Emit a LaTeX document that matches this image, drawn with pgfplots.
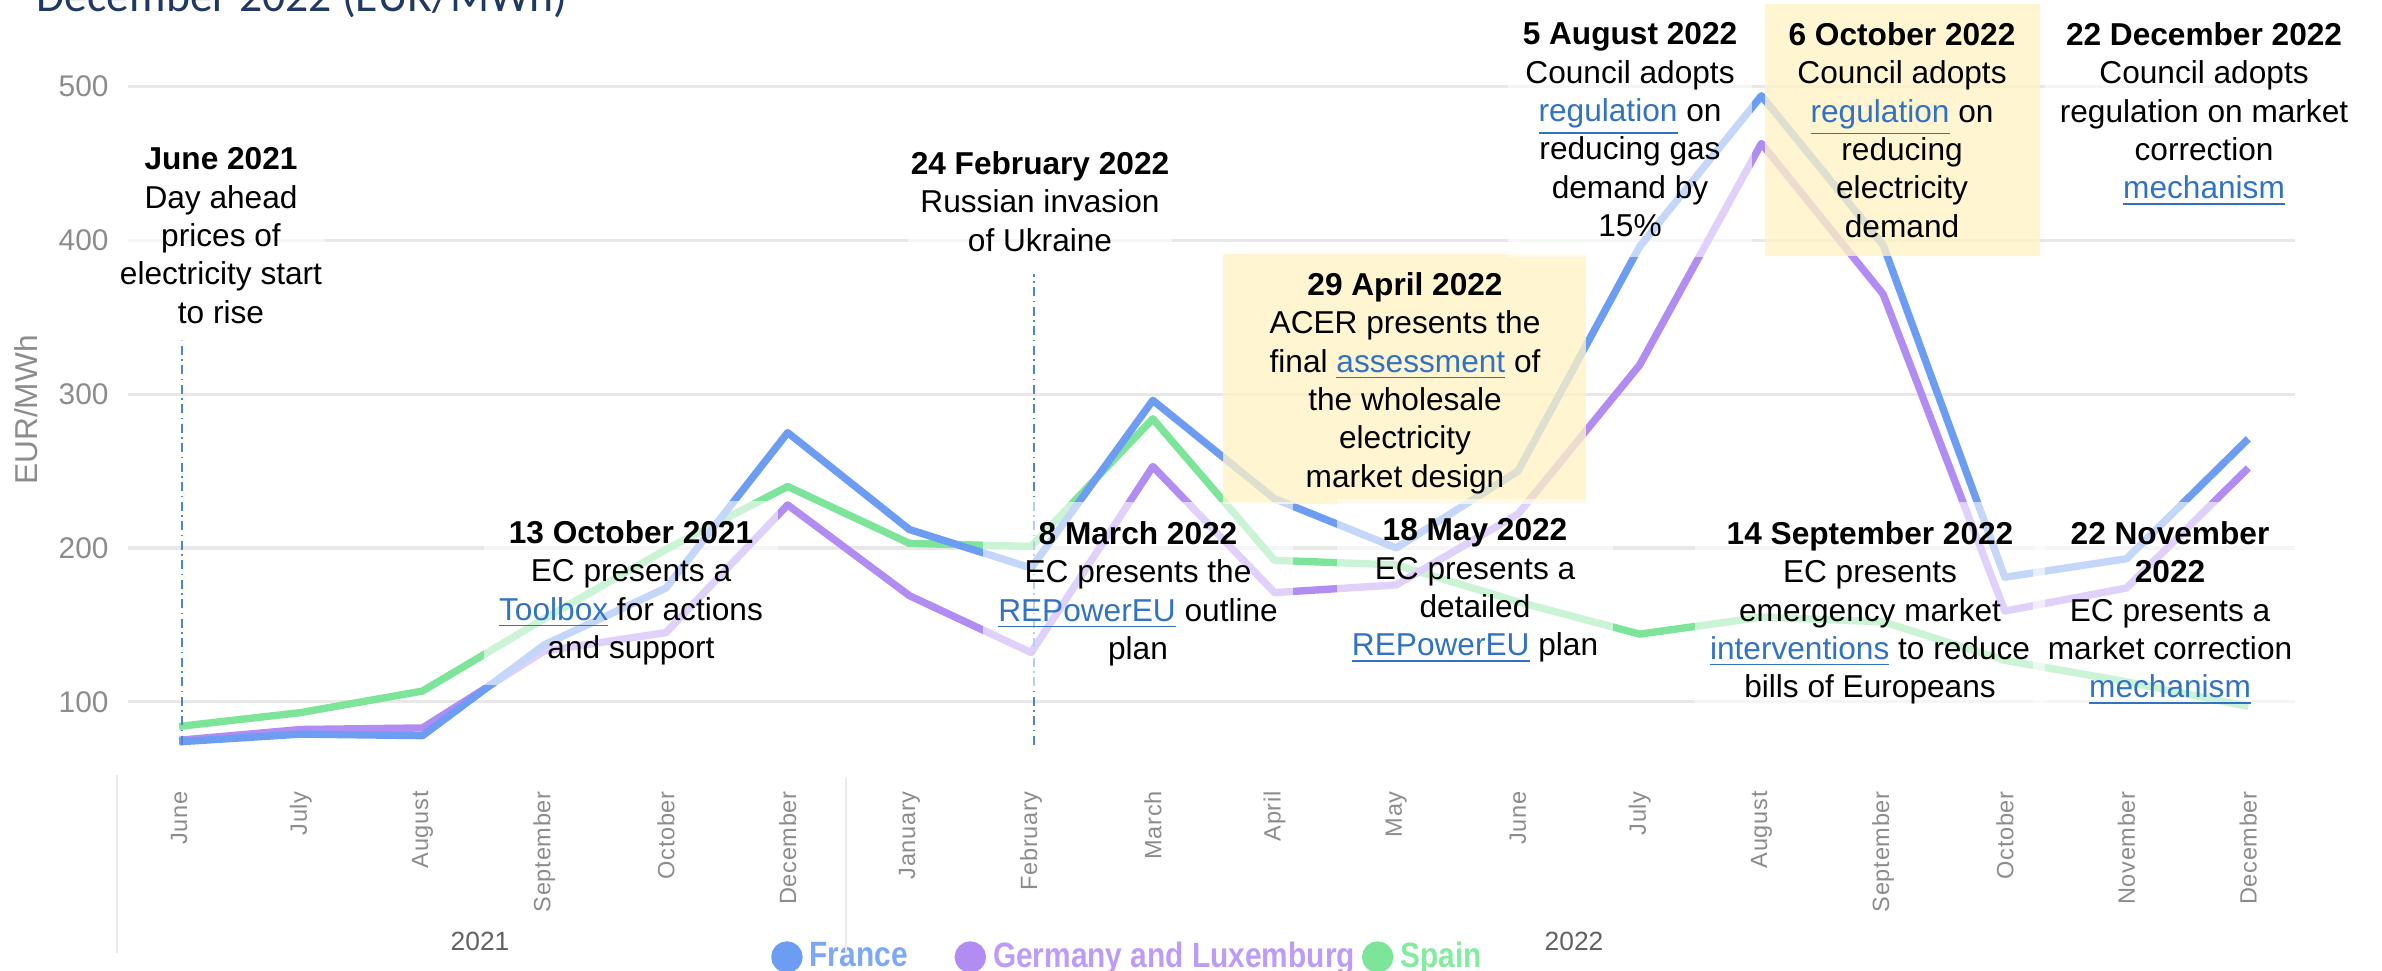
\documentclass[border=0pt]{standalone}
\usepackage{pgfplots}
\pgfplotsset{compat=1.18}
\usepackage{fontspec}
\setmainfont{Liberation Sans}
\newfontfamily\ann{Liberation Sans}
\newfontfamily\nar{Liberation Sans}[FakeStretch=0.85]
\newfontfamily\tickf{Liberation Sans}[LetterSpace=3]
\newfontfamily\titlef{Carlito}
\definecolor{france}{HTML}{6C9DF2}
\definecolor{germany}{HTML}{B18CF3}
\definecolor{spain}{HTML}{7DE59A}
\definecolor{franceL}{HTML}{7DA8F8}
\definecolor{germanyL}{HTML}{BC9CF7}
\definecolor{spainL}{HTML}{84EBA0}
\definecolor{lnk}{HTML}{3272C2}
\definecolor{evline}{HTML}{4A86C8}
\definecolor{ybox}{HTML}{FFF2C4}
\definecolor{titleblue}{HTML}{1F3864}
\definecolor{tickgray}{HTML}{8C8C8C}
\newcommand{\lk}[1]{\textcolor{lnk}{\underline{#1}}}
\tikzset{
  ann/.style={align=center, anchor=north, font=\ann\fontsize{9}{10.9}\selectfont,
    inner xsep=1.5mm, inner ysep=2mm, fill=white, fill opacity=0.6, text opacity=1},
  annY/.style={ann, fill=none}
}
\begin{document}
\begin{tikzpicture}
\useasboundingbox (0,0) rectangle (238.2mm,-97mm);
\clip (0,0) rectangle (238.2mm,-97mm);
\begin{axis}[
  at={(12.8mm,-77.87mm)}, anchor=south west,
  scale only axis, width=216.65mm, height=75.37mm,
  xmin=-0.42, xmax=17.38, ymin=50, ymax=540,
  axis line style={draw=none},
  tick style={draw=none},
  ytick={100,200,300,400,500},
  ymajorgrids, grid style={color=black!9, line width=0.9pt},
  xtick={0,...,17},
  xticklabels={June,July,August,September,October,December,January,February,March,April,May,June,July,August,September,October,November,December},
  xticklabel style={rotate=90, anchor=east, font=\tickf\fontsize{6.7}{7}\selectfont, text=tickgray, inner sep=1.2mm},
  yticklabel style={font=\fontsize{8.5}{9}\selectfont, text=tickgray, xshift=-0.7mm},
  /pgf/number format/assume math mode=true,
  clip=false,
  legend style={at={(0.4625,-0.2366)}, anchor=center, draw=none, fill=none,
    legend columns=-1, font=\nar\bfseries\fontsize{10}{11}\selectfont,
    /tikz/every even column/.append style={column sep=0pt}},
  legend image code/.code={\fill (1.2mm,0) circle (1.2mm);},
  reverse legend,
]
\addplot[spain, line width=2.1pt, line join=round] coordinates {
(0,84) (1,93) (2,107) (3,154) (4,199) (5,240) (6,203) (7,201) (8,284) (9,192)
(10,189) (11,165) (12,144) (13,155) (14,152) (15,127) (16,113) (17,97)};
\addlegendentry{\textcolor{spainL}{Spain}}
\addplot[germany, line width=2.1pt, line join=round] coordinates {
(0,75) (1,82) (2,83) (3,133) (4,145) (5,228) (6,169) (7,132) (8,253) (9,171)
(10,176) (11,222) (12,319) (13,463) (14,365) (15,159) (16,174) (17,252)};
\addlegendentry{\textcolor{germanyL}{Germany and Luxemburg}}
\addplot[france, line width=2.1pt, line join=round] coordinates {
(0,74) (1,79) (2,78) (3,137) (4,174) (5,275) (6,212) (7,187) (8,296) (9,232)
(10,200) (11,250) (12,396) (13,494) (14,397) (15,181) (16,193) (17,271)};
\addlegendentry{\textcolor{franceL}{France}\hspace*{4mm}}
\draw[evline, line width=0.6pt, dash pattern=on 0.9mm off 0.45mm on 0.15mm off 0.45mm]
  (axis cs:0.025,72) -- (axis cs:0.025,335);
\draw[evline, line width=0.6pt, dash pattern=on 0.9mm off 0.45mm on 0.15mm off 0.45mm]
  (axis cs:7.02,72) -- (axis cs:7.02,378);
\end{axis}
\begin{scope}[x=0.1mm, y=-0.1mm]
\fill[ybox, fill opacity=0.78] (1223,254) rectangle (1586,504);
\fill[ybox, fill opacity=0.78] (1765,4) rectangle (2040,256);
\node[ann, inner xsep=0.3mm] at (221,127) {\textbf{June 2021}\\Day ahead\\prices of\\electricity start\\to rise};
\node[ann, inner xsep=0.3mm] at (1040,131) {\textbf{24 February 2022}\\Russian invasion\\of Ukraine};
\node[ann] at (631,500) {\textbf{13 October 2021}\\EC presents a\\\lk{Toolbox} for actions\\and support};
\node[ann] at (1138,501) {\textbf{8 March 2022}\\EC presents the\\\lk{REPowerEU} outline\\plan};
\node[annY] at (1405,252) {\textbf{29 April 2022}\\ACER presents the\\final \lk{assessment} of\\the wholesale\\electricity\\market design};
\node[ann] at (1475,498) {\textbf{18 May 2022}\\EC presents a\\detailed\\\lk{REPowerEU} plan};
\node[ann] at (1630,2) {\textbf{5 August 2022}\\Council adopts\\\lk{regulation} on\\reducing gas\\demand by\\15\%};
\node[annY] at (1902,2) {\textbf{6 October 2022}\\Council adopts\\\lk{regulation} on\\reducing\\electricity\\demand};
\node[ann] at (2204,2) {\textbf{22 December 2022}\\Council adopts\\regulation on market\\correction\\\lk{mechanism}};
\node[ann] at (1870,501) {\textbf{14 September 2022}\\EC presents\\emergency market\\\lk{interventions} to reduce\\bills of Europeans};
\node[ann] at (2170,501) {\textbf{22 November}\\\textbf{2022}\\EC presents a\\market correction\\\lk{mechanism}};
\node[anchor=base west, text=titleblue, font=\titlef\fontsize{13}{14}\selectfont, inner sep=0] at (36,12) {December 2022 (EUR/MWh)};
\node[rotate=90, text=tickgray, font=\fontsize{9}{10}\selectfont] at (26,410) {EUR/MWh};
\node[text=black!62, font=\fontsize{7.5}{8}\selectfont] at (480,941) {2021};
\node[text=black!62, font=\fontsize{7.5}{8}\selectfont] at (1574,941) {2022};
\draw[black!8, line width=0.6pt] (117,775) -- (117,953);
\draw[black!8, line width=0.6pt] (846,778) -- (846,953);
\end{scope}
\end{tikzpicture}
\end{document}
